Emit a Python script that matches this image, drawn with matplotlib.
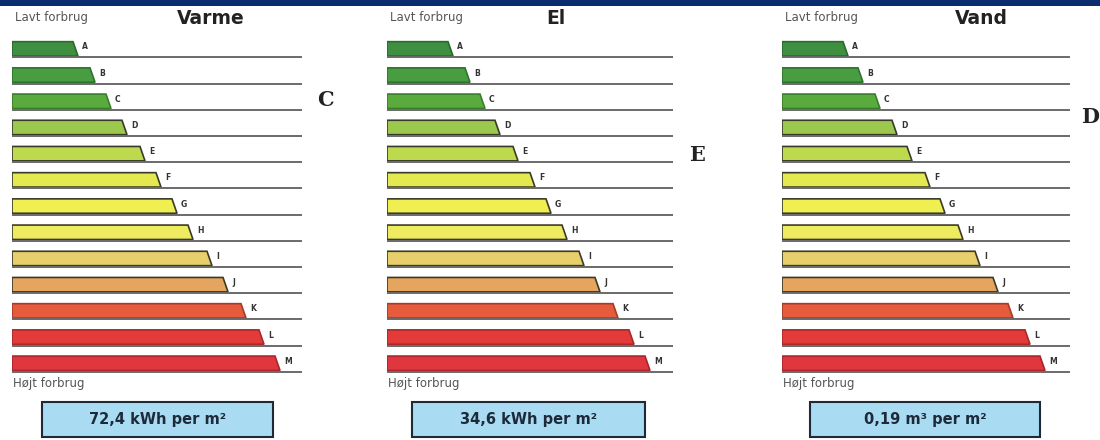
import matplotlib.pyplot as plt
from matplotlib.patches import Polygon, Rectangle

# energimærke-skala A..M for tre forbrugstyper
grades = ["A", "B", "C", "D", "E", "F", "G", "H", "I", "J", "K", "L", "M"]

varme_len = [66, 83, 99, 115, 133, 149, 165, 181, 200, 216, 234, 252, 268]
el_len = [66, 83, 98, 113, 131, 148, 164, 180, 197, 213, 231, 247, 263]
vand_len = [66, 81, 98, 115, 130, 148, 163, 181, 198, 216, 231, 248, 263]

titles = ["Varme", "El", "Vand"]
values = ["72,4 kWh per m²", "34,6 kWh per m²", "0,19 m³ per m²"]
ratings = ["C", "E", "D"]

fill_colors = ["#3f8f40", "#489d41", "#5aab3d", "#9cc84e", "#bdd94e", "#e4e94f",
               "#efef52", "#efeb60", "#e8cf6c", "#e6a55e", "#e75b3d", "#e33b3a", "#e0363d"]
edge_colors = ["#2b6a2c", "#2f7330", "#3a7d2a", "#3a3a2a", "#3a3a2a", "#3a3a2a",
               "#3a3a2a", "#3a3a2a", "#3a3a2a", "#3a3a2a", "#a83a28", "#a82a2a", "#a8262c"]

W, H = 1100, 440
fig = plt.figure(figsize=(11, 4.4), dpi=100)
fig.patch.set_facecolor("white")

# mørkeblå kant øverst
fig.patches.append(Rectangle((0, 1 - 6 / H), 1, 6 / H, transform=fig.transFigure,
                             facecolor="#0b2c6f", edgecolor="none"))

panel_x0 = [12, 387, 782]
panel_x1 = [302, 673, 1070]
title_x = [211, 556, 981]
box_x = [(42, 273), (412, 645), (810, 1040)]
rating_pos = [(325, 100), (697, 155), (1090, 117)]
lengths = [varme_len, el_len, vand_len]

row_h = 26.2
y0 = 49 - row_h / 2
for p in range(3):
    x0, x1 = panel_x0[p], panel_x1[p]
    ax = fig.add_axes([x0 / W, 1 - (y0 + 13 * row_h) / H, (x1 - x0) / W, 13 * row_h / H])
    ax.set_xlim(0, x1 - x0)
    ax.set_ylim(12.5, -0.5)
    ax.axis("off")

    for i, g in enumerate(grades):
        L = lengths[p][i]
        top, bot = i - 0.28, i + 0.27
        ax.add_patch(Polygon([(0, top), (L - 5, top), (L, bot), (0, bot)],
                             closed=True, facecolor=fill_colors[i],
                             edgecolor=edge_colors[i], lw=1.2))
        ax.hlines(bot + 0.05, 0, x1 - x0, color="#6a6a6a", lw=1.4)
        ax.text(L + 4, i - 0.08, g, fontsize=5.5, fontweight="bold",
                color="#333333", va="center", ha="left")

    fig.text((x0 + 3) / W, 1 - 18 / H, "Lavt forbrug", fontsize=8.5,
             color="#555555", va="center", ha="left")
    fig.text((x0 + 1) / W, 1 - 384 / H, "Højt forbrug", fontsize=8.5,
             color="#555555", va="center", ha="left")

    fig.text(title_x[p] / W, 1 - 18 / H, titles[p], fontsize=13.5, fontweight="bold",
             color="#222222", va="center", ha="center")

    bx0, bx1 = box_x[p]
    fig.patches.append(Rectangle((bx0 / W, 1 - 437 / H), (bx1 - bx0) / W, 35 / H,
                                 transform=fig.transFigure, facecolor="#a9dbf2",
                                 edgecolor="#1e2a36", lw=1.5))
    fig.text((bx0 + bx1) / 2 / W, 1 - 419 / H, values[p], fontsize=10.5,
             fontweight="bold", color="#1c2a3a", va="center", ha="center")

    rx, ry = rating_pos[p]
    fig.text(rx / W, 1 - ry / H, ratings[p], fontsize=15, fontweight="bold",
             family="DejaVu Serif", color="#222222", va="center", ha="center")

fig.savefig("out.png", dpi=100, facecolor="white")
